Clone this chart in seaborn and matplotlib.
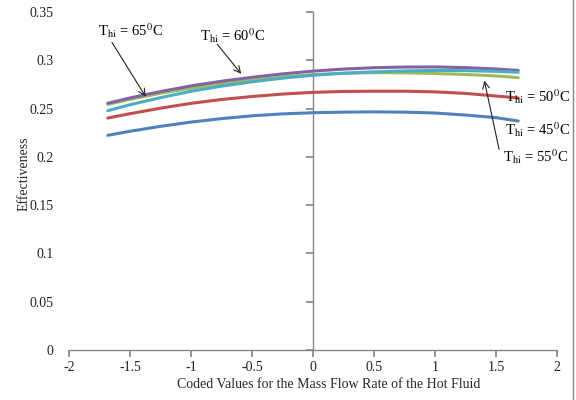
import numpy as np
import pandas as pd
import matplotlib
matplotlib.use("Agg")
import matplotlib.pyplot as plt
import seaborn as sns
from matplotlib.lines import Line2D

# ---- data ----
coded_x = [-1.682, -1.5, -1.25, -1.0, -0.75, -0.5, -0.25, 0.0,
           0.25, 0.5, 0.75, 1.0, 1.25, 1.5, 1.682]
eff_45 = [0.2223, 0.2265, 0.2316, 0.2360, 0.2396, 0.2425, 0.2445, 0.2457,
          0.2463, 0.2466, 0.2463, 0.2454, 0.2433, 0.2406, 0.2371]
eff_50 = [0.2402, 0.2447, 0.2504, 0.2554, 0.2594, 0.2625, 0.2650, 0.2668,
          0.2677, 0.2680, 0.2680, 0.2673, 0.2657, 0.2630, 0.2610]
eff_55 = [0.2544, 0.2595, 0.2659, 0.2711, 0.2757, 0.2796, 0.2828, 0.2852,
          0.2866, 0.2872, 0.2870, 0.2863, 0.2853, 0.2838, 0.2820]
eff_60 = [0.2555, 0.2610, 0.2676, 0.2735, 0.2783, 0.2824, 0.2859, 0.2888,
          0.2909, 0.2923, 0.2930, 0.2931, 0.2924, 0.2910, 0.2895]
eff_65 = [0.2478, 0.2540, 0.2613, 0.2679, 0.2732, 0.2777, 0.2815, 0.2845,
          0.2866, 0.2880, 0.2890, 0.2895, 0.2893, 0.2885, 0.2876]
series_names = ["45", "50", "55", "60", "65"]
series_vals = [eff_45, eff_50, eff_55, eff_60, eff_65]
colors = ["#4F81BD", "#C0504D", "#9BBB59", "#8064A2", "#4BACC6"]

x_ticks = [-2, -1.5, -1, -0.5, 0, 0.5, 1, 1.5, 2]
x_tick_labels = ["-2", "-1.5", "-1", "-0.5", "0", "0.5", "1", "1.5", "2"]
y_ticks = [0, 0.05, 0.1, 0.15, 0.2, 0.25, 0.3, 0.35]
y_tick_labels = ["0", "0.05", "0.1", "0.15", "0.2", "0.25", "0.3", "0.35"]

rows = []
for name, vals in zip(series_names, series_vals):
    for xv, yv in zip(coded_x, vals):
        rows.append({"x": xv, "eff": yv, "T": name})
df = pd.DataFrame(rows)

sns.set_theme(style="white")
plt.rcParams["font.family"] = ["Liberation Serif", "DejaVu Serif"]
plt.rcParams["mathtext.fontset"] = "stix"

gray = "#868686"
fig = plt.figure(figsize=(5.76, 4), dpi=100)
ax = fig.add_axes([69 / 576, 50 / 400, 488 / 576, 338 / 400])

sns.lineplot(data=df, x="x", y="eff", hue="T", palette=colors,
             linewidth=2.2, legend=False, ax=ax)

ax.set_xlim(-2, 2)
ax.set_ylim(0, 0.35)
ax.set_xticks(x_ticks)
ax.set_xticklabels(x_tick_labels, fontsize=10, color="#222222")
ax.set_yticks(y_ticks)
ax.set_yticklabels(y_tick_labels, fontsize=10, color="#222222")
ax.grid(False)
for s in ["top", "right", "left"]:
    ax.spines[s].set_visible(False)
ax.spines["bottom"].set_color(gray)
ax.spines["bottom"].set_linewidth(1.0)
ax.tick_params(axis="x", bottom=True, length=5, direction="out", color=gray, pad=3)
ax.tick_params(axis="y", left=False, length=0, pad=11)

sec = ax.secondary_yaxis(0.5)
sec.set_yticks(y_ticks)
sec.set_yticklabels([])
for sp in sec.spines.values():
    sp.set_color(gray)
    sp.set_linewidth(1.0)
sec.tick_params(axis="y", which="both", length=5, direction="in", color=gray,
                left=False, right=True)

ax.set_xlabel("Coded Values for the Mass Flow Rate of the Hot Fluid", fontsize=10)
ax.xaxis.set_label_coords(0.533, -0.082)
ax.set_ylabel("Effectiveness", fontsize=10)
ax.yaxis.set_label_coords(-0.078, 0.52)

def lab(t):
    return r"T$_{\mathrm{hi}}$ = " + t + r"$^{0}$C"

txt_kw = dict(fontsize=10.5, color="black", va="center", ha="left")
ax.text(-1.76, 0.331, lab("65"), **txt_kw)
ax.text(-0.926, 0.326, lab("60"), **txt_kw)
ax.text(1.574, 0.262, lab("50"), **txt_kw)
ax.text(1.574, 0.228, lab("45"), **txt_kw)
ax.text(1.56, 0.200, lab("55"), **txt_kw)

arr = dict(arrowstyle="->", color="#222222", lw=0.8)
ax.annotate("", xy=(-1.36, 0.260), xytext=(-1.66, 0.321), arrowprops=arr)
ax.annotate("", xy=(-0.574, 0.2837), xytext=(-0.80, 0.319), arrowprops=arr)
ax.annotate("", xy=(1.40, 0.2817), xytext=(1.53, 0.205), arrowprops=arr)

fig.add_artist(Line2D([573 / 576, 573 / 576], [0, 1], color=gray, lw=1.0,
                      transform=fig.transFigure))

fig.savefig("out.png", dpi=100)
